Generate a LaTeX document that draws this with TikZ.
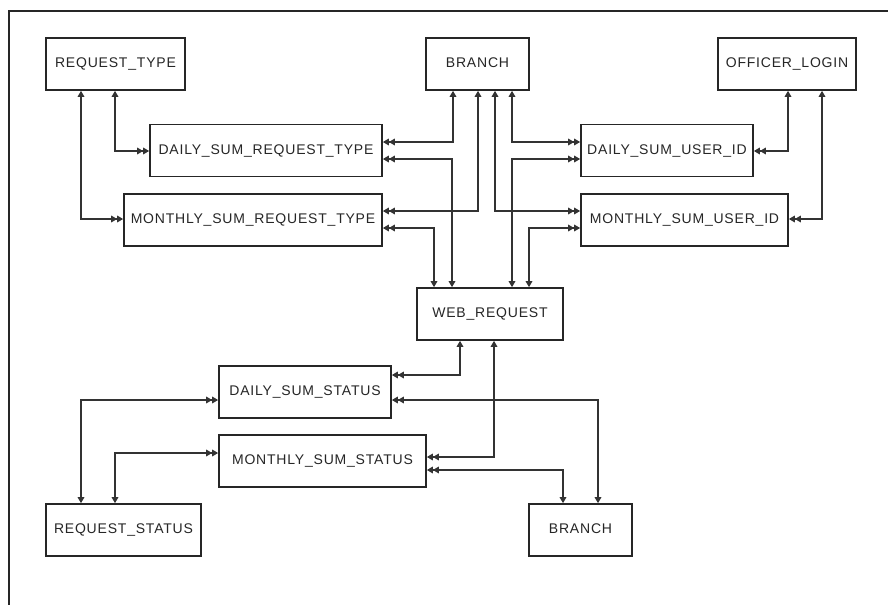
\documentclass[tikz,border=0pt]{standalone}
\usepackage{fontspec}
\setmainfont{Liberation Sans}[LetterSpace=5.7]
\usetikzlibrary{arrows.meta}
\begin{document}
\begin{tikzpicture}[x=1pt,y=-1pt,
  tbl/.style={draw=black!85, line width=1.6pt, rectangle, inner sep=0pt,
    minimum height=52pt, text height=10pt, text depth=3pt,
    font=\fontsize{14pt}{16pt}\selectfont, text=black!85},
  rel/.style={draw=black!80, line width=1.5pt,
    {Triangle[length=6pt,width=6.5pt] Triangle[length=6pt,width=6.5pt]}-{Triangle[length=6pt,width=6.5pt]}},
  frameline/.style={draw=black!85, line width=1.8pt}]
\useasboundingbox (0,0) rectangle (888,605);
\fill[white] (0,0) rectangle (888,605);

% page frame (top and left rules)
\coordinate (ftl) at (9,11);
\coordinate (ftr) at (888,11);
\coordinate (fbl) at (9,605);
\draw[frameline] (ftr) -- (ftl) -- (fbl);

% tables
\node[tbl, minimum width=139pt] (rt)   at (115.5,64)  {REQUEST\_TYPE};
\node[tbl, minimum width=103pt] (br)   at (477.5,64)  {BRANCH};
\node[tbl, minimum width=138pt] (ol)   at (787,64)    {OFFICER\_LOGIN};
\node[tbl, minimum width=232pt] (dsrt) at (266,150.5) {DAILY\_SUM\_REQUEST\_TYPE};
\node[tbl, minimum width=258pt] (msrt) at (253,220)   {MONTHLY\_SUM\_REQUEST\_TYPE};
\node[tbl, minimum width=172pt] (dsu)  at (667,150.5) {DAILY\_SUM\_USER\_ID};
\node[tbl, minimum width=207pt] (msu)  at (684.5,220) {MONTHLY\_SUM\_USER\_ID};
\node[tbl, minimum width=146pt] (web)  at (490,314)   {WEB\_REQUEST};
\node[tbl, minimum width=172pt] (dss)  at (305,392)   {DAILY\_SUM\_STATUS};
\node[tbl, minimum width=207pt] (mss)  at (322.5,461) {MONTHLY\_SUM\_STATUS};
\node[tbl, minimum width=155pt] (rs)   at (123.5,530) {REQUEST\_STATUS};
\node[tbl, minimum width=103pt] (br2)  at (580.5,530) {BRANCH};

% relationships: child end (double tip) -> parent end (single tip)
\draw[rel] (dsrt.west |- 0,151) -| (115,0 |- rt.south);
\draw[rel] (msrt.west |- 0,219) -| (81,0 |- rt.south);
\draw[rel] (dsrt.east |- 0,142) -| (453,0 |- br.south);
\draw[rel] (msrt.east |- 0,211) -| (478,0 |- br.south);
\draw[rel] (dsrt.east |- 0,159) -| (452,0 |- web.north);
\draw[rel] (msrt.east |- 0,228) -| (434,0 |- web.north);
\draw[rel] (dsu.west |- 0,142) -| (512,0 |- br.south);
\draw[rel] (msu.west |- 0,211) -| (495,0 |- br.south);
\draw[rel] (dsu.west |- 0,159) -| (512,0 |- web.north);
\draw[rel] (msu.west |- 0,228) -| (529,0 |- web.north);
\draw[rel] (dsu.east |- 0,151) -| (788,0 |- ol.south);
\draw[rel] (msu.east |- 0,219) -| (822,0 |- ol.south);
\draw[rel] (dss.west |- 0,400) -| (81,0 |- rs.north);
\draw[rel] (mss.west |- 0,453) -| (115,0 |- rs.north);
\draw[rel] (dss.east |- 0,375) -| (460,0 |- web.south);
\draw[rel] (mss.east |- 0,457) -| (494,0 |- web.south);
\draw[rel] (dss.east |- 0,400) -| (598,0 |- br2.north);
\draw[rel] (mss.east |- 0,470) -| (563,0 |- br2.north);
\end{tikzpicture}
\end{document}
